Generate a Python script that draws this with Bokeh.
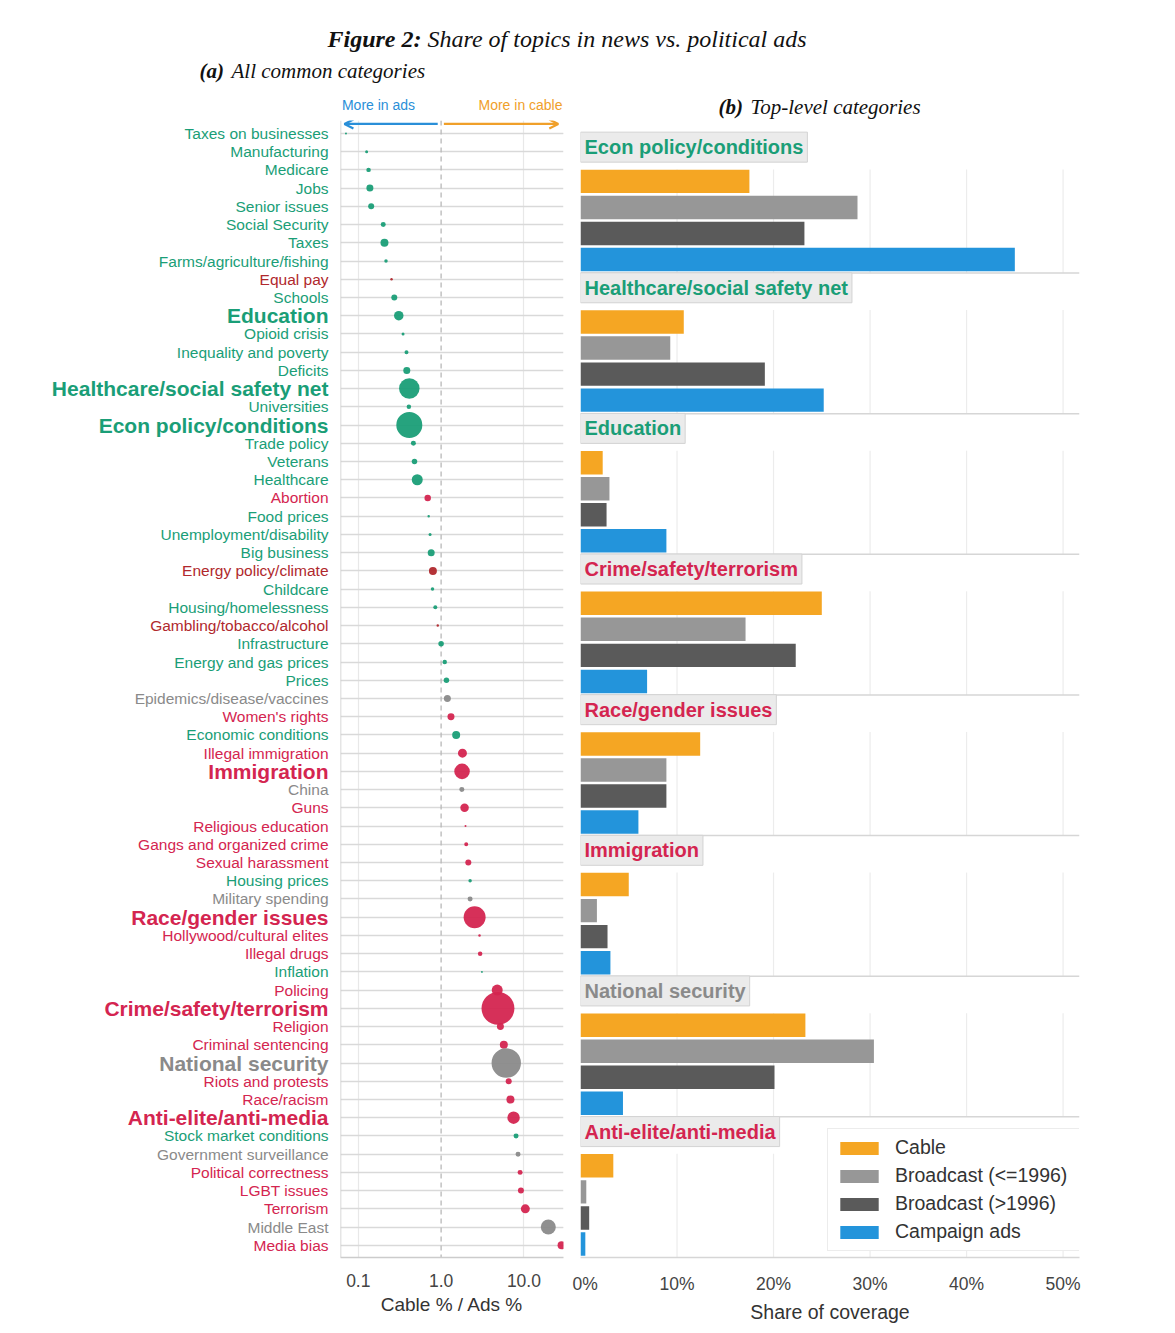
import math
from bokeh.plotting import figure
from bokeh.models import (Range1d, FixedTicker, Grid, Span, Arrow, OpenHead, ColumnDataSource,
                          Legend, LegendItem, NumeralTickFormatter)
from bokeh.layouts import row, column
from bokeh.embed import file_html
from bokeh.resources import INLINE
from bokeh.core.properties import value

# ---------------- data: panel (a) ----------------
topics = ["Taxes on businesses", "Manufacturing", "Medicare", "Jobs", "Senior issues",
          "Social Security", "Taxes", "Farms/agriculture/fishing", "Equal pay", "Schools",
          "Education", "Opioid crisis", "Inequality and poverty", "Deficits",
          "Healthcare/social safety net", "Universities", "Econ policy/conditions",
          "Trade policy", "Veterans", "Healthcare", "Abortion", "Food prices",
          "Unemployment/disability", "Big business", "Energy policy/climate", "Childcare",
          "Housing/homelessness", "Gambling/tobacco/alcohol", "Infrastructure",
          "Energy and gas prices", "Prices", "Epidemics/disease/vaccines", "Women's rights",
          "Economic conditions", "Illegal immigration", "Immigration", "China", "Guns",
          "Religious education", "Gangs and organized crime", "Sexual harassment",
          "Housing prices", "Military spending", "Race/gender issues",
          "Hollywood/cultural elites", "Illegal drugs", "Inflation", "Policing",
          "Crime/safety/terrorism", "Religion", "Criminal sentencing", "National security",
          "Riots and protests", "Race/racism", "Anti-elite/anti-media",
          "Stock market conditions", "Government surveillance", "Political correctness",
          "LGBT issues", "Terrorism", "Middle East", "Media bias"]

# Cable % / Ads % ratio
ratio = [0.071, 0.126, 0.133, 0.138, 0.143, 0.20, 0.207, 0.216, 0.252, 0.272,
         0.308, 0.347, 0.382, 0.385, 0.413, 0.408, 0.413, 0.463, 0.477, 0.515,
         0.689, 0.708, 0.736, 0.759, 0.796, 0.787, 0.851, 0.911, 1.00, 1.106,
         1.16, 1.19, 1.316, 1.52, 1.81, 1.79, 1.78, 1.92, 1.97, 2.01,
         2.13, 2.24, 2.24, 2.54, 2.91, 2.96, 3.11, 4.76, 4.86, 5.2,
         5.72, 6.12, 6.55, 6.88, 7.5, 8.04, 8.5, 9.0, 9.2, 10.4,
         19.7, 28.5]

# overall topic share (drives dot size)
topic_share = [0.11, 0.25, 0.56, 1.36, 1.0, 0.69, 1.78, 0.34, 0.17, 1.0,
               2.5, 0.25, 0.44, 1.36, 11.7, 0.56, 18.8, 0.69, 0.84, 3.36,
               1.17, 0.17, 0.25, 1.36, 1.78, 0.34, 0.44, 0.17, 0.84, 0.56,
               0.84, 1.36, 1.36, 1.78, 2.25, 6.7, 0.69, 2.0, 0.11, 0.44,
               1.0, 0.34, 0.69, 13.4, 0.17, 0.56, 0.11, 3.36, 30.0, 1.36,
               1.78, 24.0, 1.0, 1.78, 4.3, 0.69, 0.69, 0.69, 1.0, 2.25,
               6.25, 1.78]

# E = economy/health/education, S = social/crime, D = other social, N = national security
topic_group = ["E", "E", "E", "E", "E", "E", "E", "E", "D", "E",
               "E", "E", "E", "E", "E", "E", "E", "E", "E", "E",
               "S", "E", "E", "E", "D", "E", "E", "D", "E", "E",
               "E", "N", "S", "E", "S", "S", "N", "S", "S", "S",
               "S", "E", "N", "S", "S", "S", "E", "S", "S", "S",
               "S", "N", "S", "S", "S", "E", "N", "S", "S", "S",
               "N", "S"]

# ---------------- data: panel (b) ----------------
bar_categories = ["Econ policy/conditions", "Healthcare/social safety net", "Education",
                  "Crime/safety/terrorism", "Race/gender issues", "Immigration",
                  "National security", "Anti-elite/anti-media"]
bar_groups = ["E", "E", "E", "S", "S", "S", "N", "S"]
cable = [17.5, 10.7, 2.3, 25.0, 12.4, 5.0, 23.3, 3.4]
broadcast_old = [28.7, 9.3, 3.0, 17.1, 8.9, 1.7, 30.4, 0.6]
broadcast_new = [23.2, 19.1, 2.7, 22.3, 8.9, 2.8, 20.1, 0.9]
campaign_ads = [45.0, 25.2, 8.9, 6.9, 6.0, 3.1, 4.4, 0.5]
series_names = ["Cable", "Broadcast (<=1996)", "Broadcast (>1996)", "Campaign ads"]

# ---------------- styles ----------------
GROUP_COL = {"E": "#1a9e77", "S": "#d42550", "D": "#b0282d", "N": "#8a8a8a"}
SERIES_COL = ["#f5a623", "#979797", "#5a5a5a", "#2394db"]
BLUE = "#2a8fd8"
ORANGE = "#f0a02a"
SANS = "Liberation Sans"
SERIF = "Liberation Serif"
major = set(bar_categories)

n = len(topics)
rows = list(range(n))

W_TOTAL = 1167
H_TITLE = 120
H_MAIN = 1205
BOTTOM = 62

# ---------------- title figure ----------------
pt = figure(width=W_TOTAL, height=H_TITLE, x_range=Range1d(0, W_TOTAL), y_range=Range1d(H_TITLE, 0),
            toolbar_location=None, output_backend="svg", x_axis_location=None,
            y_axis_location=None, min_border=0, outline_line_color=None)
pt.grid.visible = False
pt.text(x=[421], y=[38], text=["Figure 2:"], text_align="right", text_baseline="middle",
        text_font=value(SERIF), text_font_style="bold italic", text_font_size="24px",
        text_color="#111111")
pt.text(x=[427], y=[38], text=["Share of topics in news vs. political ads"], text_align="left",
        text_baseline="middle", text_font=value(SERIF), text_font_style="italic",
        text_font_size="24px", text_color="#111111")
pt.text(x=[199], y=[70], text=["(a)"], text_align="left", text_baseline="middle",
        text_font=value(SERIF), text_font_style="bold italic", text_font_size="21px",
        text_color="#111111")
pt.text(x=[231], y=[70], text=["All common categories"], text_align="left", text_baseline="middle",
        text_font=value(SERIF), text_font_style="italic", text_font_size="21px",
        text_color="#111111")
pt.text(x=[718], y=[106], text=["(b)"], text_align="left", text_baseline="middle",
        text_font=value(SERIF), text_font_style="bold italic", text_font_size="21px",
        text_color="#111111")
pt.text(x=[750], y=[106], text=["Top-level categories"], text_align="left", text_baseline="middle",
        text_font=value(SERIF), text_font_style="italic", text_font_size="21px",
        text_color="#111111")
pt.text(x=[378], y=[104], text=["More in ads"], text_align="center", text_baseline="middle",
        text_font=value(SANS), text_font_size="14px", text_color=BLUE)
pt.text(x=[520], y=[104], text=["More in cable"], text_align="center", text_baseline="middle",
        text_font=value(SANS), text_font_size="14px", text_color=ORANGE)

# ---------------- shared y range for panel (a) ----------------
yr = Range1d(start=n - 1 + 0.67, end=-0.709)

src = ColumnDataSource(dict(
    row=rows,
    topic=topics,
    ratio=ratio,
    size=[6.0 * math.sqrt(s) for s in topic_share],
    color=[GROUP_COL[g] for g in topic_group],
    fs=["21px" if t in major else "15.5px" for t in topics],
    fst=["bold" if t in major else "normal" for t in topics],
    lx=[328] * n,
))

# labels figure
pl = figure(width=340, height=H_MAIN, x_range=Range1d(0, 340), y_range=yr,
            toolbar_location=None, output_backend="svg", x_axis_location=None,
            y_axis_location=None, min_border_left=0, min_border_right=0,
            min_border_top=0, min_border_bottom=BOTTOM, outline_line_color=None)
pl.grid.visible = False
pl.text(x="lx", y="row", text="topic", text_color="color", text_font_size="fs",
        text_font_style="fst", text_align="right", text_baseline="middle",
        text_font=value(SANS), source=src)

# dots figure
x_lo, x_hi = 10 ** -1.215, 10 ** 1.478
pd_ = figure(width=232, height=H_MAIN, x_axis_type="log", x_range=Range1d(x_lo, x_hi), y_range=yr,
             toolbar_location=None, output_backend="svg", y_axis_location=None,
             min_border_left=0, min_border_right=9, min_border_top=0,
             min_border_bottom=BOTTOM, outline_line_color=None)
pd_.xaxis.ticker = FixedTicker(ticks=[0.1, 1, 10])
pd_.xaxis.major_label_overrides = {0.1: "0.1", 1: "1.0", 10: "10.0"}
pd_.xaxis.major_tick_line_color = None
pd_.xaxis.minor_tick_line_color = None
pd_.xaxis.axis_line_color = "#cccccc"
pd_.xaxis.axis_line_width = 1.5
pd_.xaxis.major_label_text_font = SANS
pd_.xaxis.major_label_text_font_size = "17.5px"
pd_.xaxis.major_label_text_color = "#444444"
pd_.xaxis.major_label_standoff = 10
pd_.xaxis.axis_label = "Cable % / Ads %"
pd_.xaxis.axis_label_text_font = SANS
pd_.xaxis.axis_label_text_font_size = "19px"
pd_.xaxis.axis_label_text_font_style = "normal"
pd_.xaxis.axis_label_text_color = "#333333"
pd_.xaxis.axis_label_standoff = 4
pd_.xgrid.ticker = FixedTicker(ticks=[0.1, 10])
pd_.xgrid.grid_line_color = "#e8e8e8"
pd_.xgrid.grid_line_width = 1.2
pd_.add_layout(Grid(dimension=1, ticker=FixedTicker(ticks=rows),
                    grid_line_color="#d9d9d9", grid_line_width=1.3))
pd_.add_layout(Span(location=1.0, dimension="height", line_color="#b8b8b8",
                    line_dash="5 4", line_width=1.3, level="underlay"))
pd_.add_layout(Span(location=x_lo, dimension="height", line_color="#cccccc", line_width=1.5))
pd_.scatter(x="ratio", y="row", size="size", fill_color="color", line_color=None,
            fill_alpha=0.95, source=src)
ARROW_Y = -0.52
pd_.add_layout(Arrow(end=OpenHead(size=9, line_color=BLUE, line_width=2.2),
                     x_start=0.91, y_start=ARROW_Y, x_end=0.068, y_end=ARROW_Y,
                     line_color=BLUE, line_width=2.2))
pd_.add_layout(Arrow(end=OpenHead(size=9, line_color=ORANGE, line_width=2.2),
                     x_start=1.08, y_start=ARROW_Y, x_end=26.0, y_end=ARROW_Y,
                     line_color=ORANGE, line_width=2.2))

# ---------------- panel (b) ----------------
F = 5.4          # slots per facet
X_END = 0.517
nf = len(bar_categories)
pb = figure(width=595, height=H_MAIN, x_range=Range1d(0, X_END),
            y_range=Range1d(start=nf * F, end=-0.458),
            toolbar_location=None, output_backend="svg", y_axis_location=None,
            min_border_left=8, min_border_right=88, min_border_top=0,
            min_border_bottom=BOTTOM, outline_line_color=None)
pb.grid.visible = False
pb.xaxis.ticker = FixedTicker(ticks=[0, 0.1, 0.2, 0.3, 0.4, 0.5])
pb.xaxis.formatter = NumeralTickFormatter(format="0%")
pb.xaxis.major_tick_line_color = None
pb.xaxis.minor_tick_line_color = None
pb.xaxis.axis_line_color = "#d6d6d6"
pb.xaxis.axis_line_width = 1.5
pb.xaxis.major_label_text_font = SANS
pb.xaxis.major_label_text_font_size = "17.5px"
pb.xaxis.major_label_text_color = "#444444"
pb.xaxis.major_label_standoff = 10
pb.xaxis.axis_label = "Share of coverage"
pb.xaxis.axis_label_text_font = SANS
pb.xaxis.axis_label_text_font_size = "19.5px"
pb.xaxis.axis_label_text_font_style = "normal"
pb.xaxis.axis_label_text_color = "#333333"
pb.xaxis.axis_label_standoff = 4

# facet grid lines
gx, gy0, gy1 = [], [], []
for i in range(nf):
    for t in [0.1, 0.2, 0.3, 0.4, 0.5]:
        gx.append(t)
        gy0.append(i * F + 1.42)
        gy1.append((i + 1) * F)
pb.segment(x0=gx, y0=gy0, x1=gx, y1=gy1, line_color="#ececec", line_width=1.2)
sy = [(i + 1) * F for i in range(nf - 1)]
pb.segment(x0=[0] * len(sy), y0=sy, x1=[X_END] * len(sy), y1=sy,
           line_color="#d6d6d6", line_width=1.5)

series_vals = [cable, broadcast_old, broadcast_new, campaign_ads]
renderers = []
for k, vals in enumerate(series_vals):
    s = ColumnDataSource(dict(
        y=[i * F + 1.88 + k for i in range(nf)],
        right=[v / 100.0 for v in vals],
        cat=bar_categories,
    ))
    r = pb.hbar(y="y", left=0, right="right", height=0.9, source=s,
                fill_color=SERIES_COL[k], line_color=None)
    renderers.append(r)

hsrc = ColumnDataSource(dict(
    x=[0] * nf,
    y=[i * F + 0.565 for i in range(nf)],
    text=bar_categories,
    color=[GROUP_COL[g] for g in bar_groups],
))
pb.text(x="x", y="y", text="text", text_color="color", source=hsrc,
        text_align="left", text_baseline="middle", text_font=value(SANS),
        text_font_style="bold", text_font_size="20px",
        background_fill_color="#ebebeb", border_line_color="#d3d3d3",
        border_line_width=1, padding=4)

legend = Legend(items=[LegendItem(label=series_names[k], renderers=[renderers[k]])
                       for k in range(4)],
                location=(247, 6), margin=0, padding=7, spacing=5,
                glyph_width=48, glyph_height=16, label_standoff=12, label_width=180,
                label_text_font=SANS, label_text_font_size="19.5px",
                label_text_color="#333333", border_line_color="#d9d9d9",
                border_line_width=1, background_fill_color="white",
                background_fill_alpha=1.0)
pb.add_layout(legend)

layout = column(pt, row(pl, pd_, pb))
open("out.html", "w").write(file_html(layout, INLINE))
